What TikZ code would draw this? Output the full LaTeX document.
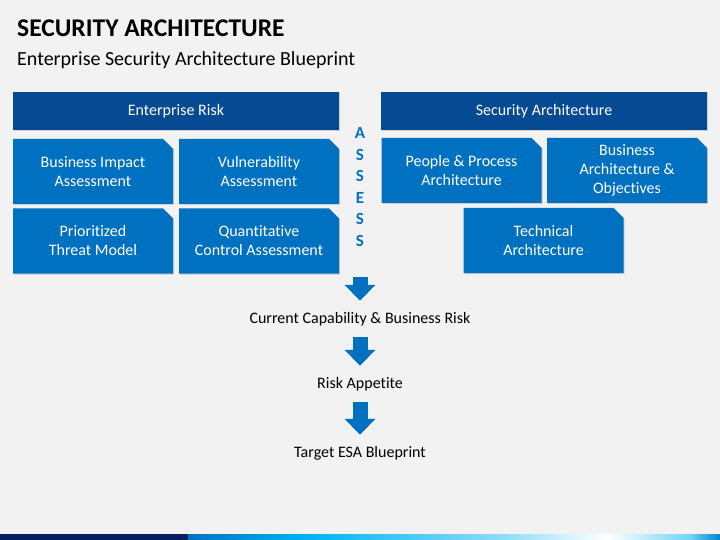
\documentclass[tikz,border=0pt]{standalone}
\usepackage{fontspec}
\setmainfont{Carlito}[Ligatures=NoCommon]
\usetikzlibrary{arrows.meta,shapes.misc,shadows}

\definecolor{hdrblue}{RGB}{5,74,146}
\definecolor{boxblue}{RGB}{0,112,192}
\definecolor{navy}{RGB}{0,32,96}
\definecolor{cyanblue}{RGB}{0,176,240}
\definecolor{bggray}{RGB}{242,242,242}

\begin{document}
\begin{tikzpicture}[x=1pt,y=-1pt,>=Stealth,
  hdr/.style={fill=hdrblue,text=white,minimum width=326pt,minimum height=38pt,inner sep=0pt,font=\fontsize{16}{19}\selectfont,drop shadow={opacity=0.3,shadow xshift=1pt,shadow yshift=-1pt}},
  box/.style={chamfered rectangle,chamfered rectangle corners=north east,chamfered rectangle xsep=5pt,chamfered rectangle ysep=5pt,fill=boxblue,text=white,align=center,inner sep=0pt,minimum width=160pt,minimum height=65pt,font=\fontsize{16}{19}\selectfont,drop shadow={opacity=0.3,shadow xshift=1pt,shadow yshift=-1pt}},
  lbl/.style={inner sep=0pt,text height=11pt,text depth=3pt,font=\fontsize{16}{19}\selectfont},
  bigarrow/.style={draw=boxblue,line width=15pt,-{Triangle[width=30pt,length=16pt]},shorten <=11pt,shorten >=11pt}]
\fill[bggray] (0,0) rectangle (720,540);
\useasboundingbox (0,0) rectangle (720,540);
% title
\node[anchor=base west,inner sep=0pt,font=\fontsize{25.5}{28}\selectfont\bfseries] (title) at (17,37) {SECURITY ARCHITECTURE};
\node[anchor=base west,inner sep=0pt,font=\fontsize{20}{23}\selectfont] (sub) at (17,66) {Enterprise Security Architecture Blueprint};
% enterprise risk side
\node[hdr] (er) at (176,111) {Enterprise Risk};
\node[box] (bia) at (93,171.5) {Business Impact\\Assessment};
\node[box] (vul) at (259,171.5) {Vulnerability\\Assessment};
\node[box] (ptm) at (93,241) {Prioritized\\Threat Model};
\node[box] (qca) at (259,241) {Quantitative\\Control Assessment};
% security architecture side
\node[hdr] (sa) at (544,111) {Security Architecture};
\node[box] (ppa) at (461.5,170.5) {People \& Process\\Architecture};
\node[box] (bao) at (627,170.5) {Business\\Architecture \&\\Objectives};
\node[box] (tec) at (543.5,240.5) {Technical\\Architecture};
\node[align=center,inner sep=0pt,text=boxblue,font=\fontsize{17}{21.5}\selectfont\bfseries] (assess) at (360,187) {A\\S\\S\\E\\S\\S};
% flow
\coordinate (a0) at (360,266);
\node[lbl] (cap) at (360,319) {Current Capability \& Business Risk};
\node[lbl] (risk) at (360,384) {Risk Appetite};
\node[lbl] (tgt) at (360,453) {Target ESA Blueprint};
\draw[bigarrow] (a0)--(cap);
\draw[bigarrow] (cap)--(risk);
\draw[bigarrow] (risk)--(tgt);
% bottom bar
\fill[navy] (0,534) rectangle (188,540);
\shade[left color=boxblue,right color=cyanblue] (188,534) rectangle (300,540);
\shade[left color=cyanblue,right color=cyanblue!45!white] (300,534) rectangle (500,540);
\shade[left color=cyanblue!45!white,right color=white] (500,534) rectangle (607,540);
\shade[left color=white,right color=cyanblue!55!white] (607,534) rectangle (690,540);
\shade[left color=cyanblue!55!white,right color=boxblue!70!cyanblue] (690,534) rectangle (720,540);
\end{tikzpicture}
\end{document}
